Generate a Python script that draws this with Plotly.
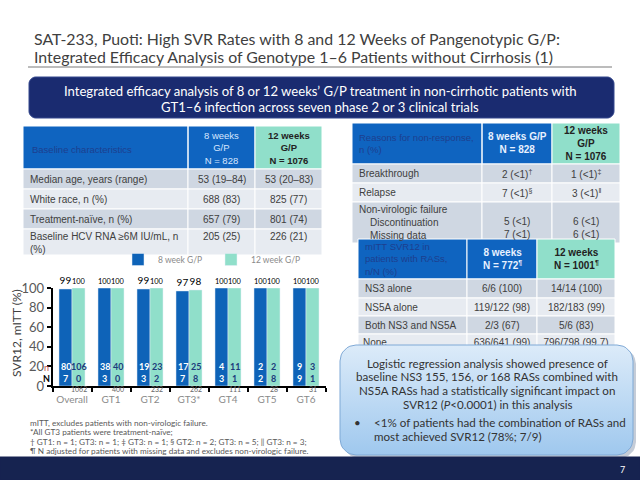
import math
import plotly.graph_objects as go

# ---------------- data ----------------
categories = ["Overall", "GT1", "GT2", "GT3*", "GT4", "GT5", "GT6"]
svr_8wk = [99, 100, 99, 97, 100, 100, 100]
svr_12wk = [100, 100, 100, 98, 100, 100, 100]
n_8wk = [807, 383, 193, 177, 43, 22, 99]
n_12wk = [1060, 400, 232, 258, 111, 28, 31]
N_12wk = [1062, 400, 232, 262, 111, 28, 31]
y_ticks = [0, 20, 40, 60, 80, 100]
series_names = ["8 week G/P", "12 week G/P"]

title_lines = ["SAT-233, Puoti: High SVR Rates with 8 and 12 Weeks of Pangenotypic G/P:",
               "Integrated Efficacy Analysis of Genotype 1–6 Patients without Cirrhosis (1)"]
banner_lines = ["Integrated efficacy analysis of 8 or 12 weeks’ G/P treatment in non-cirrhotic patients with",
                "GT1–6 infection across seven phase 2 or 3 clinical trials"]

baseline_head = ["Baseline characteristics", "8 weeks<br>G/P<br>N = 828", "<b>12 weeks<br>G/P<br>N = 1076</b>"]
baseline_rows = ["Median age, years (range)", "White race, n (%)", "Treatment-naïve, n (%)",
                 "Baseline HCV RNA ≥6M IU/mL, n<br>(%)"]
baseline_8wk = ["53 (19–84)", "688 (83)", "657 (79)", "205 (25)"]
baseline_12wk = ["53 (20–83)", "825 (77)", "801 (74)", "226 (21)"]

nonresp_head = ["Reasons for non-response,<br>n (%)", "<b>8 weeks G/P<br>N = 828</b>", "<b>12 weeks<br>G/P<br>N = 1076</b>"]
nonresp_rows = ["Breakthrough", "Relapse", "Non-virologic failure<br>    Discontinuation<br>    Missing data"]
nonresp_8wk = ["2 (<1)<sup>†</sup>", "7 (<1)<sup>§</sup>", "5 (<1)<br>7 (<1)"]
nonresp_12wk = ["1 (<1)<sup>‡</sup>", "3 (<1)<sup>‖</sup>", "6 (<1)<br>6 (<1)"]

ras_head = ["mITT SVR12 in<br>patients with RASs,<br>n/N (%)", "<b>8 weeks<br>N = 772<sup>¶</sup></b>", "<b>12 weeks<br>N = 1001<sup>¶</sup></b>"]
ras_rows = ["NS3 alone", "NS5A alone", "Both NS3 and NS5A", "None"]
ras_8wk = ["6/6 (100)", "119/122 (98)", "2/3 (67)", "636/641 (99)"]
ras_12wk = ["14/14 (100)", "182/183 (99)", "5/6 (83)", "796/798 (99.7)"]

callout_lines = ["Logistic regression analysis showed presence of",
                 "baseline NS3 155, 156, or 168 RASs combined with",
                 "NS5A RASs had a statistically significant impact on",
                 "SVR12 (<i>P</i><0.0001) in this analysis"]
callout_bullets = ["<1% of patients had the combination of RASs and",
                   "most achieved SVR12 (78%; 7/9)"]

footnotes = ["mITT, excludes patients with non-virologic failure.",
             "*All GT3 patients were treatment-naïve;",
             "† GT1: n = 1; GT3: n = 1; ‡ GT3: n = 1; § GT2: n = 2; GT3: n = 5; ‖ GT3: n = 3;",
             "¶ N adjusted for patients with missing data and excludes non-virologic failure."]
slide_number = "7"

# ---------------- styles ----------------
W, H = 640, 480
BLUE = "#0f64c0"
TEAL = "#90dfca"
ROW_DARK = "#cfd7e2"
ROW_LIGHT = "#e7ebf1"
NAVY = "#1a2b70"
TXT = "#404040"
SANS = "Liberation Sans, Arial, sans-serif"
CAL = "Lato, Open Sans, sans-serif"

fig = go.Figure()

# ---------------- bar chart ----------------
xs = list(range(len(categories)))
fig.add_trace(go.Bar(x=xs, y=svr_8wk, name=series_names[0], marker_color="#0e63b8",
                     text=svr_8wk, textposition="outside", cliponaxis=False,
                     textfont=dict(size=10, color="black", family=CAL)))
fig.add_trace(go.Bar(x=xs, y=svr_12wk, name=series_names[1], marker_color=TEAL,
                     text=svr_12wk, textposition="outside", cliponaxis=False,
                     textfont=dict(size=10, color="black", family=CAL)))

annotations = []


def split_num(v):
    s = str(v)
    return (s[:-1], s[-1]) if len(s) > 1 else (s, "")


for i in xs:
    for off, vals, col in ((-1 / 6, n_8wk, "white"), (1 / 6, n_12wk, "#1c3b7c")):
        a, b = split_num(vals[i])
        for yy, t in ((20, a), (8, b)):
            if t:
                annotations.append(dict(x=i + off, y=yy, xref="x", yref="y", text="<b>%s</b>" % t,
                                        showarrow=False, font=dict(size=9, color=col, family=CAL)))
    annotations.append(dict(x=i + 1 / 6, y=389, xref="x", yref="y2", text=str(N_12wk[i]), showarrow=False,
                            font=dict(size=7, color="#666666", family=CAL)))

# n / N labels left of axis
annotations.append(dict(x=46, y=367, xref="x2", yref="y2", text="n", showarrow=False,
                        font=dict(size=9, color="#c0504d", family=CAL)))
annotations.append(dict(x=46, y=378, xref="x2", yref="y2", text="<b>N</b>", showarrow=False,
                        font=dict(size=9, color="black", family=CAL)))

# y axis title
annotations.append(dict(x=16, y=333, xref="x2", yref="y2", text="SVR12, mITT (%)", textangle=-90,
                        showarrow=False, font=dict(size=12, color=TXT, family=CAL)))

# ---------------- helpers for slide elements (pixel space on x2/y2) ----------------
shapes = []


def rect(x0, y0, x1, y1, fill, line_color="white", lw=1, layer="below"):
    shapes.append(dict(type="rect", xref="x2", yref="y2", x0=x0, y0=y0, x1=x1, y1=y1,
                       fillcolor=fill, line=dict(color=line_color, width=lw), layer=layer))


def rounded_pts(x0, y0, x1, y1, r, n=8):
    pts = []
    corners = [(x1 - r, y0 + r, -90, 0), (x1 - r, y1 - r, 0, 90), (x0 + r, y1 - r, 90, 180), (x0 + r, y0 + r, 180, 270)]
    for cx, cy, a0, a1 in corners:
        for k in range(n + 1):
            a = math.radians(a0 + (a1 - a0) * k / n)
            pts.append((cx + r * math.cos(a), cy + r * math.sin(a)))
    pts.append(pts[0])
    return pts


def rounded_path(x0, y0, x1, y1, r):
    pts = rounded_pts(x0, y0, x1, y1, r)
    return "M" + " L".join("%.1f,%.1f" % p for p in pts) + " Z"


def text(x, y, t, size=10, color=TXT, family=SANS, anchor="center", align=None):
    annotations.append(dict(x=x, y=y, xref="x2", yref="y2", text=t, showarrow=False,
                            xanchor=anchor, yanchor="middle", align=align or ("left" if anchor == "left" else "center"),
                            font=dict(size=size, color=color, family=family)))


# title
text(32, 38, title_lines[0], size=15.9, color=TXT, family=CAL, anchor="left")
text(32, 56, title_lines[1], size=15.9, color=TXT, family=CAL, anchor="left")
shapes.append(dict(type="line", xref="x2", yref="y2", x0=28, x1=612, y0=67, y1=67,
                   line=dict(color="#a6a6a6", width=1.5), layer="below"))

# banner
shapes.append(dict(type="path", xref="x2", yref="y2", path=rounded_path(29, 77, 614, 118, 7),
                   fillcolor=NAVY, line=dict(color="#34488e", width=1), layer="below"))
text(320, 91, banner_lines[0], size=13.1, color="white", family=CAL)
text(320, 107, banner_lines[1], size=13.1, color="white", family=CAL)

# left table
lx = [23, 188, 255, 322]
ly = [126, 169, 189, 209, 229, 255]
rect(lx[0], ly[0], lx[2], ly[1], BLUE)
rect(lx[2], ly[0], lx[3], ly[1], TEAL)
shapes.append(dict(type="line", xref="x2", yref="y2", x0=lx[1], x1=lx[1], y0=ly[0], y1=ly[1],
                   line=dict(color="white", width=1.5), layer="below"))
for r in range(4):
    fill = ROW_DARK if r % 2 == 0 else ROW_LIGHT
    for c in range(3):
        rect(lx[c], ly[r + 1], lx[c + 1], ly[r + 2], fill)
text(30, 149, baseline_head[0], size=9.5, color="#1d3f8f", anchor="left")
text((lx[1] + lx[2]) / 2, 148, baseline_head[1], size=9.5, color="#d6e6ff")
text((lx[2] + lx[3]) / 2, 148, baseline_head[2], size=9.5, color="#222222")
for r in range(4):
    ymid = (ly[r + 1] + ly[r + 2]) / 2
    if r == 3:
        text(28, ymid + 1, baseline_rows[r], size=10, anchor="left")
        ymid = ly[r + 1] + 7
    else:
        text(28, ymid, baseline_rows[r], size=10, anchor="left")
    text((lx[1] + lx[2]) / 2, ymid, baseline_8wk[r], size=10)
    text((lx[2] + lx[3]) / 2, ymid, baseline_12wk[r], size=10)

# right table (reasons for non-response)
rx = [352, 482, 552, 620]
ry = [123, 164, 183, 202, 243]
rect(rx[0], ry[0], rx[2], ry[1], BLUE)
rect(rx[2], ry[0], rx[3], ry[1], TEAL)
shapes.append(dict(type="line", xref="x2", yref="y2", x0=rx[1], x1=rx[1], y0=ry[0], y1=ry[1],
                   line=dict(color="white", width=1.5), layer="below"))
for r in range(3):
    fill = ROW_DARK if r != 1 else ROW_LIGHT
    for c in range(3):
        rect(rx[c], ry[r + 1], rx[c + 1], ry[r + 2], fill)
text(357, 143, nonresp_head[0], size=9.5, color="#1d3f8f", anchor="left")
text((rx[1] + rx[2]) / 2, 143, nonresp_head[1], size=10, color="#e8f1ff")
text((rx[2] + rx[3]) / 2, 143, nonresp_head[2], size=10, color="#222222")
for r in range(3):
    ymid = (ry[r + 1] + ry[r + 2]) / 2
    text(357, ymid, nonresp_rows[r], size=10, anchor="left")
    if r == 2:
        ymid += 5.5
    text((rx[1] + rx[2]) / 2, ymid, nonresp_8wk[r], size=10)
    text((rx[2] + rx[3]) / 2, ymid, nonresp_12wk[r], size=10)

# mITT RAS table
mx = [358, 467, 537, 615]
my = [239, 279, 298, 316, 334, 352]
rect(mx[0], my[0], mx[1], my[1], BLUE)
rect(mx[1], my[0], mx[2], my[1], BLUE)
rect(mx[2], my[0], mx[3], my[1], TEAL)
for r in range(4):
    fill = ROW_DARK if r % 2 == 0 else ROW_LIGHT
    for c in range(3):
        rect(mx[c], my[r + 1], mx[c + 1], my[r + 2], fill)
text(363, 259, ras_head[0], size=9.5, color="#1d3f8f", anchor="left")
text((mx[1] + mx[2]) / 2, 259, ras_head[1], size=10, color="#e8f1ff")
text((mx[2] + mx[3]) / 2, 259, ras_head[2], size=10, color="#222222")
for r in range(3):
    ymid = (my[r + 1] + my[r + 2]) / 2
    text(363, ymid, ras_rows[r], size=10, anchor="left")
    text((mx[1] + mx[2]) / 2, ymid, ras_8wk[r], size=10)
    text((mx[2] + mx[3]) / 2, ymid, ras_12wk[r], size=10)

# "None" row as a trace so the callout can cover it
none_y = (my[4] + my[5]) / 2
fig.add_trace(go.Scatter(x=[363, (mx[1] + mx[2]) / 2, (mx[2] + mx[3]) / 2], y=[none_y] * 3,
                         text=[ras_rows[3], ras_8wk[3], ras_12wk[3]], mode="text",
                         textposition=["middle right", "middle center", "middle center"],
                         textfont=dict(size=10, color=TXT, family=SANS),
                         xaxis="x2", yaxis="y2", showlegend=False, hoverinfo="skip"))

# callout shadow + gradient box
sh = rounded_pts(343, 348, 636, 458, 16)
fig.add_trace(go.Scatter(x=[p[0] for p in sh], y=[p[1] for p in sh], fill="toself", mode="lines",
                         line=dict(width=0), fillcolor="rgba(90,110,140,0.35)",
                         xaxis="x2", yaxis="y2", showlegend=False, hoverinfo="skip"))
cb = rounded_pts(340, 345, 633, 455, 16)
fig.add_trace(go.Scatter(x=[p[0] for p in cb], y=[p[1] for p in cb], fill="toself", mode="lines",
                         line=dict(width=1, color="#7fa9d6"),
                         fillgradient=dict(type="vertical", start=345, stop=455,
                                           colorscale=[[0, "#dcebf9"], [1, "#9fc8ee"]]),
                         xaxis="x2", yaxis="y2", showlegend=False, hoverinfo="skip"))
for k, ln in enumerate(callout_lines):
    text(487, 363 + 13.7 * k, ln, size=11.6, color="#333333", family=CAL)
text(352, 422, "•", size=11.6, color="#333333", family=CAL, anchor="left")
for k, ln in enumerate(callout_bullets):
    text(372, 422 + 14 * k, ln, size=11.6, color="#333333", family=CAL, anchor="left")

# footnotes
for k, ln in enumerate(footnotes):
    text(28, 423 + 9.3 * k, ln, size=8.2, color="#595959", family=CAL, anchor="left")

# bottom band
rect(0, 457, 640, 480, "#162350", line_color="#162350", layer="above")
text(622, 469, slide_number, size=9, color="white", family=CAL)

# ---------------- layout ----------------
fig.update_layout(
    width=W, height=H, autosize=False,
    margin=dict(l=0, r=0, t=0, b=0),
    paper_bgcolor="white", plot_bgcolor="rgba(0,0,0,0)",
    barmode="group", bargap=0.333, bargroupgap=0,
    font=dict(family=CAL, color=TXT),
    xaxis=dict(domain=[52.5 / W, 325.5 / W], range=[-0.5, 6.5], tickmode="array", tickvals=xs,
               ticktext=categories, ticks="", showline=True, linecolor="black", linewidth=1.5,
               tickfont=dict(size=10, color="#8a8a8a", family=CAL), showgrid=False, zeroline=False,
               ticklabelstandoff=3,
               minor=dict(ticks="outside", tick0=0.5, dtick=1, ticklen=4, tickcolor="black", tickwidth=1.5,
                          showgrid=False),
               fixedrange=True, automargin=False),
    yaxis=dict(domain=[1 - 386 / H, 1 - 288 / H], range=[0, 100], tickvals=y_ticks, ticks="outside",
               ticklen=4, tickcolor="black", tickwidth=1.5, showline=True, linecolor="black", linewidth=1.5,
               tickfont=dict(size=13, color="#595959", family=CAL), showgrid=False, zeroline=False,
               fixedrange=True, automargin=False),
    xaxis2=dict(domain=[0, 1], range=[0, W], visible=False, anchor="y2", fixedrange=True, automargin=False),
    yaxis2=dict(domain=[0, 1], range=[H, 0], visible=False, anchor="x2", fixedrange=True, automargin=False),
    showlegend=True,
    legend=dict(orientation="h", x=118 / W, y=1 - 245 / H, xanchor="left", yanchor="top",
                font=dict(size=8.5, color="#8a8a8a", family=CAL), entrywidth=48, entrywidthmode="pixels",
                bgcolor="rgba(0,0,0,0)", traceorder="normal"),
    shapes=shapes,
    annotations=annotations,
)

fig.write_html("out.html", config={"displayModeBar": False},
               post_script="document.body.style.margin='0';document.body.style.overflow='hidden';")
